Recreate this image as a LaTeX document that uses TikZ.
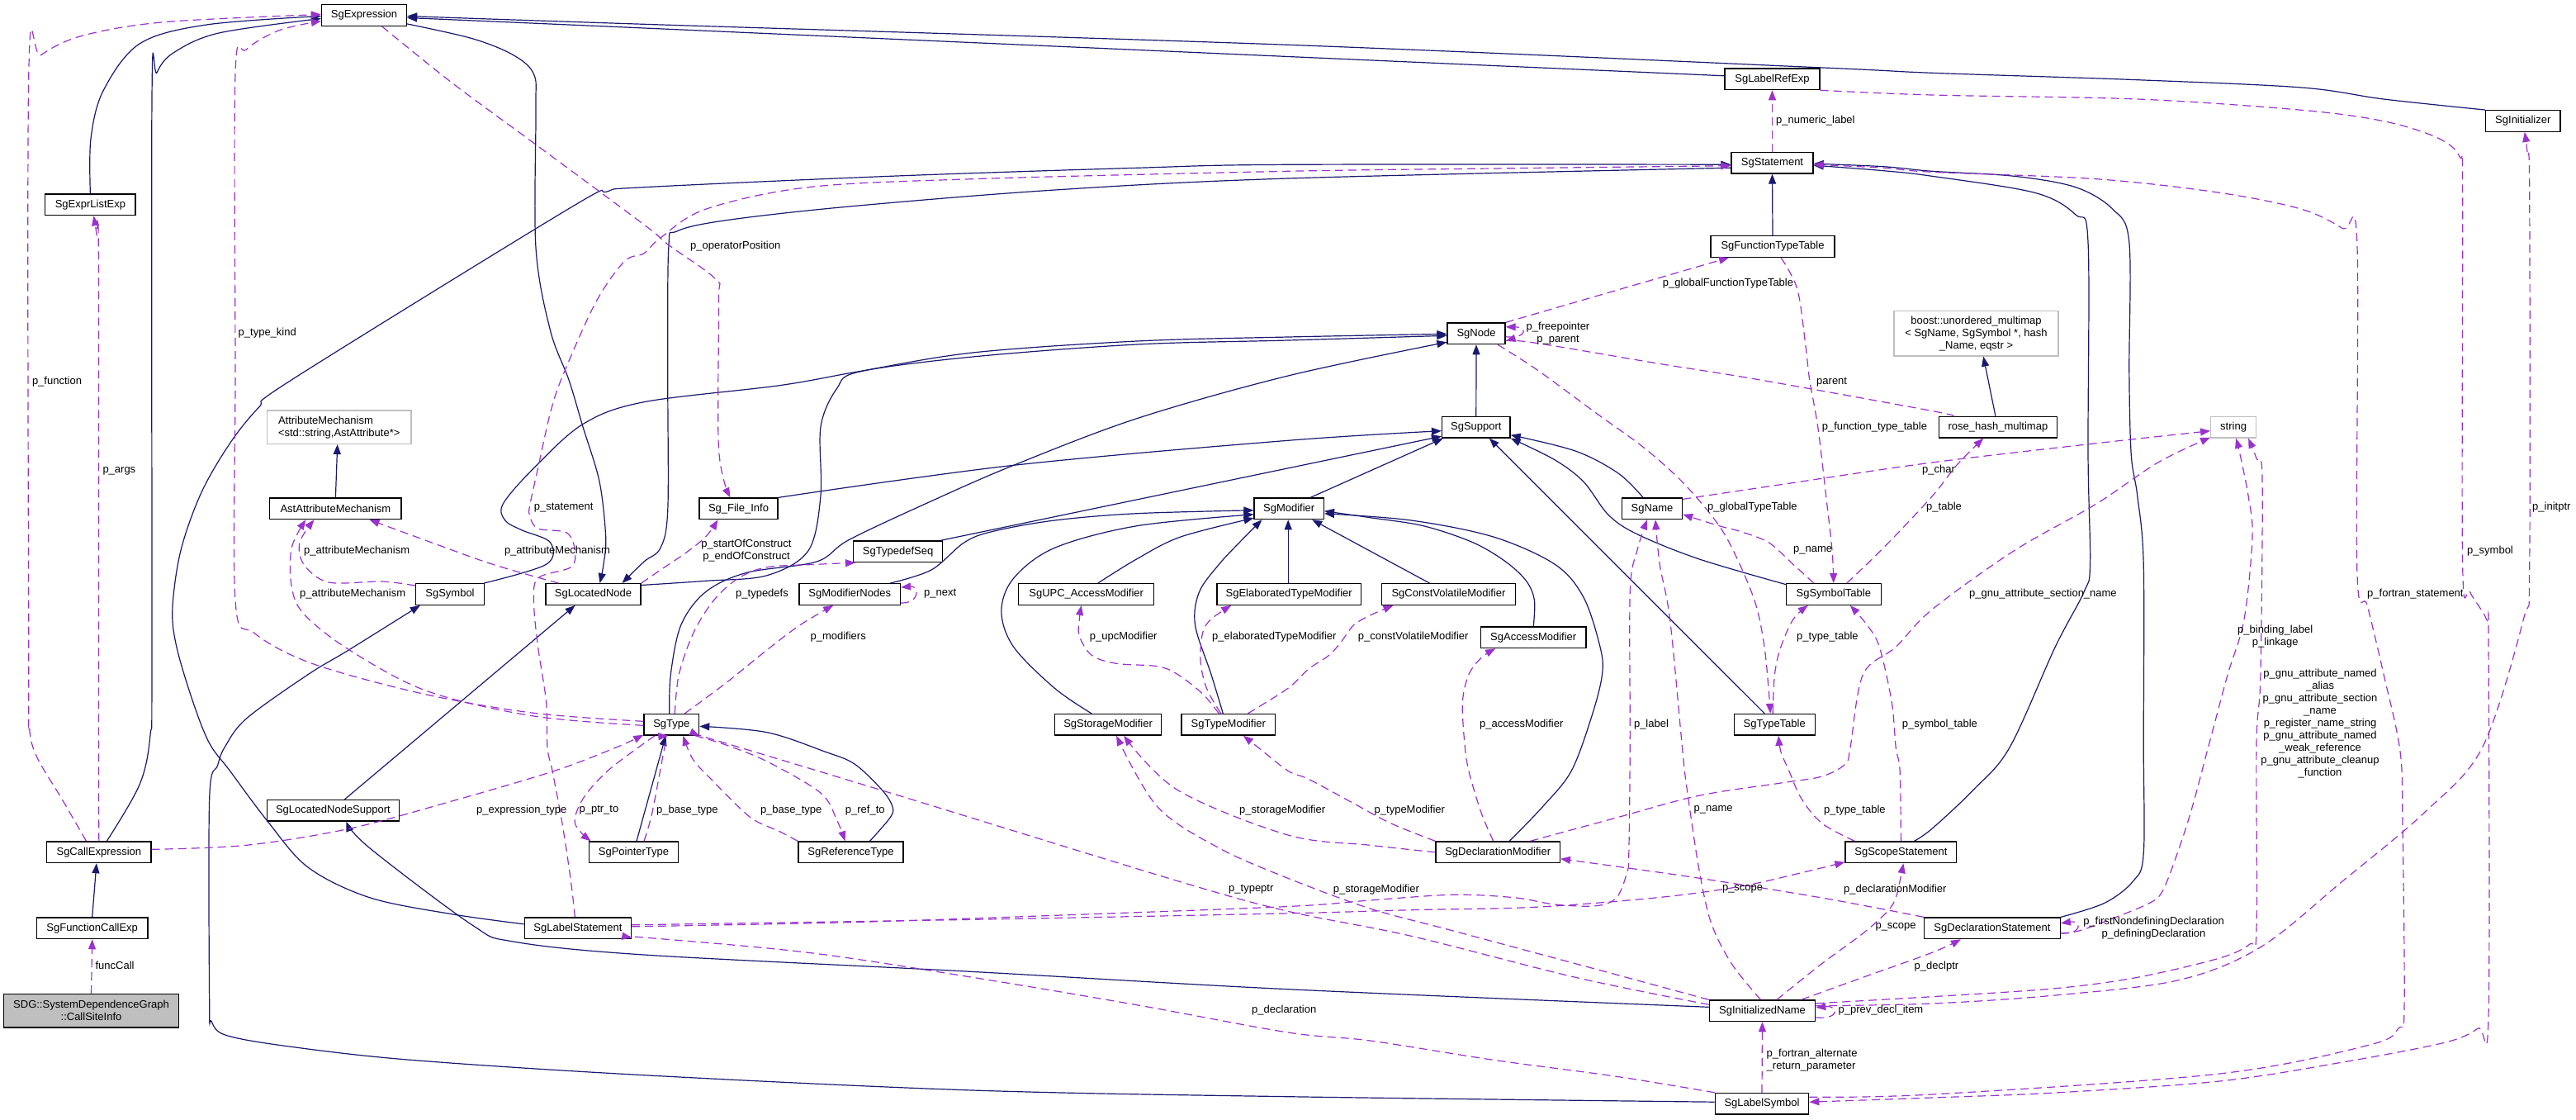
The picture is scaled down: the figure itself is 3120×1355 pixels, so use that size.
\documentclass[tikz,border=0pt]{standalone}
\usepackage{fontspec}
\setmainfont{Liberation Sans}
\usetikzlibrary{arrows.meta}
\definecolor{navy}{HTML}{191970}
\definecolor{orchid}{HTML}{9A32CD}
\definecolor{lgray}{HTML}{BFBFBF}
\newcommand{\dxf}{\fontsize{13}{15}\selectfont}
\begin{document}
\begin{tikzpicture}[x=1pt,y=-1pt,
  box/.style={draw=black,line width=1.3pt,fill=white,minimum height=25.6pt,inner sep=0pt,font=\dxf},
  gbox/.style={draw=lgray,line width=1.3pt,fill=white,inner sep=0pt,font=\dxf},
  inh/.style={draw=navy,line width=1.2pt,-{Triangle[length=12pt,width=9pt]}},
  use/.style={draw=orchid,line width=1.2pt,dash pattern=on 10pt off 6pt,-{Triangle[length=12pt,width=9pt]}},
  lab/.style={font=\dxf,inner sep=0pt,anchor=west},
  clab/.style={font=\dxf,inner sep=0pt,align=center}]
\fill[white] (0,0) rectangle (3120,1355);
\useasboundingbox (0,0) rectangle (3120,1355);
% ---------------- nodes
\node[box,minimum width=103pt] (Expr) at (441,18.5) {SgExpression};
\node[box,minimum width=109.4pt] (ExprList) at (109.4,247.8) {SgExprListExp};
\node[box,minimum width=115pt] (LabelRef) at (2146.5,95.8) {SgLabelRefExp};
\node[box,minimum width=99pt] (Stmt) at (2146.5,197.2) {SgStatement};
\node[box,minimum width=150pt] (FTT) at (2147,298.5) {SgFunctionTypeTable};
\node[box,minimum width=70pt] (Node) at (1788,403.8) {SgNode};
\node[gbox,minimum width=199pt,minimum height=54.3pt,align=center] (Boost) at (2393.5,403.8) {boost::unordered\_multimap\\< SgName, SgSymbol *, hash\\\_Name, eqstr >};
\node[box,minimum width=90.5pt] (Init) at (3055.8,146.5) {SgInitializer};
\node[gbox,minimum width=174.7pt,minimum height=40.3pt,align=left] (AM) at (410.7,517.2) {AttributeMechanism\\<std::string,AstAttribute*>};
\node[box,minimum width=159.2pt] (AAM) at (406.4,615.8) {AstAttributeMechanism};
\node[box,minimum width=83pt] (Sym) at (545,719.5) {SgSymbol};
\node[box,minimum width=115pt] (LocNode) at (718.5,719.5) {SgLocatedNode};
\node[box,minimum width=95pt] (FileInfo) at (894.5,615.8) {Sg\_File\_Info};
\node[box,minimum width=108pt] (TypedefSeq) at (1087.6,667.8) {SgTypedefSeq};
\node[box,minimum width=122.4pt] (ModNodes) at (1029.2,719.5) {SgModifierNodes};
\node[box,minimum width=164pt] (UPC) at (1315.7,719.5) {SgUPC\_AccessModifier};
\node[box,minimum width=174.6pt] (Elab) at (1561.2,719.5) {SgElaboratedTypeModifier};
\node[box,minimum width=84.3pt] (Mod) at (1561.2,615.8) {SgModifier};
\node[box,minimum width=66.7pt] (Type) at (813.3,877.3) {SgType};
\node[box,minimum width=129.4pt] (StorMod) at (1342.1,877.3) {SgStorageModifier};
\node[box,minimum width=113.5pt] (TypeMod) at (1487.8,877.3) {SgTypeModifier};
\node[box,minimum width=82.5pt] (Support) at (1787.8,517.2) {SgSupport};
\node[box,minimum width=73pt] (Name) at (2001,615.8) {SgName};
\node[box,minimum width=162pt] (CV) at (1754.5,719.5) {SgConstVolatileModifier};
\node[box,minimum width=127.8pt] (Access) at (1857.2,771.8) {SgAccessModifier};
\node[box,minimum width=114.8pt] (SymTab) at (2220.8,719.5) {SgSymbolTable};
\node[box,minimum width=98pt] (TypeTable) at (2149.2,877.3) {SgTypeTable};
\node[box,minimum width=142.7pt] (Rose) at (2419.9,517.2) {rose\_hash\_multimap};
\node[gbox,minimum width=54.8pt,minimum height=25.6pt] (Str) at (2705.1,517.2) {string};
\node[box,minimum width=160.2pt] (LNS) at (403.4,981.3) {SgLocatedNodeSupport};
\node[box,minimum width=126.3pt] (CallExpr) at (119.9,1031.8) {SgCallExpression};
\node[box,minimum width=134.7pt] (FuncCall) at (111.7,1123.8) {SgFunctionCallExp};
\node[box,fill=lgray,minimum width=212pt,minimum height=40.3pt,align=center] (SDG) at (110.5,1223.8) {SDG::SystemDependenceGraph\\::CallSiteInfo};
\node[box,minimum width=129.3pt] (LabelStmt) at (699.9,1123.8) {SgLabelStatement};
\node[box,minimum width=108.5pt] (PtrType) at (767.5,1031.8) {SgPointerType};
\node[box,minimum width=127pt] (RefType) at (1030.5,1031.8) {SgReferenceType};
\node[box,minimum width=150.3pt] (DeclMod) at (1814.2,1031.8) {SgDeclarationModifier};
\node[box,minimum width=134.8pt] (ScopeStmt) at (2302.4,1031.8) {SgScopeStatement};
\node[box,minimum width=128.3pt] (InitName) at (2134.5,1223.8) {SgInitializedName};
\node[box,minimum width=113.4pt] (LabelSym) at (2134,1336.2) {SgLabelSymbol};
\node[box,minimum width=164.7pt] (DeclStmt) at (2412.9,1123.8) {SgDeclarationStatement};
% ---------------- inheritance edges
\draw[inh] plot[smooth,tension=.55] coordinates {(ExprList.north) (110,168) (125,110) (169,53) (250,30) ([yshift=-1pt]Expr.west)};
\draw[inh] plot[smooth,tension=.55] coordinates {([xshift=9.4pt]CallExpr.north) (169,950) (182,890) (184,800) (184,120) (190,88) (210,64) (265,40) ([yshift=-4pt]Expr.west)};
\draw[inh] (FuncCall.north) -- ([xshift=-3pt]CallExpr.south);
\draw[inh] plot[smooth,tension=.55] coordinates {([yshift=4pt]LabelRef.west) (1560,68.5) (780,34) ([yshift=-3pt]Expr.east)};
\draw[inh] plot[smooth,tension=.55] coordinates {(Init.north west) (2887,120) (2787.7,106) (2588.7,96.7) (2340,88.3) (2201.6,81.7) (1560,54.3) (780,29.3) ([yshift=-1pt]Expr.east)};
\draw[inh] plot[smooth,tension=.55] coordinates {([yshift=3pt]Expr.south east) (572,46.7) (621.8,66.7) (646.6,90) (649,133) (649,300) (666.5,400) (689,460) (706,516.7) (726,583) (733.7,650) (731,683) ([xshift=8pt]LocNode.north)};
\draw[inh] plot[smooth,tension=.55] coordinates {([yshift=-6pt]Stmt.west) (1560,216) (1277.4,230) (1028.7,250) (879.5,266.7) (819.8,280) (809.8,300) (808.8,460) (808.8,616.7) (800,663.3) (780,680) ([xshift=35pt]LocNode.north)};
\draw[inh] plot[smooth,tension=.55] coordinates {([yshift=11pt]LocNode.east) (854.6,703.3) (929,696.7) (979,666.7) (994,600) (994,516.7) (1013.8,470) (1041,450) (1178,432) (1377,417) (1560,412) ([yshift=-2.5pt]Node.west)};
\draw[inh] plot[smooth,tension=.55] coordinates {([xshift=-1pt]Sym.north east) (661.6,683.3) (666.5,656.7) (631.7,641.7) (611.8,630) (609.3,610) (646.6,566.7) (706.3,513.3) (780,486.7) (944,466.7) (1038.7,450) (1178,427) (1377,413) (1560,408) ([yshift=-0.5pt]Node.west)};
\draw[inh] plot[smooth,tension=.55] coordinates {([xshift=-2.5pt]Type.north) (812.3,816.7) (824.8,756.7) (854.6,716.7) (904.4,693.3) (989,680) (1028.7,653.3) (1128,606.7) (1227.7,563.3) (1376.9,506.7) (1560,455) ([yshift=3pt]Node.south west)};
\draw[inh] (Support.north) -- (Node.south);
\draw[inh] plot[smooth,tension=.55] coordinates {(FileInfo.north east) (1227.7,563.3) (1560,533.3) ([yshift=-4.5pt]Support.west)};
\draw[inh] ([xshift=-3pt]TypedefSeq.north east) -- ([yshift=-11pt]Support.west);
\draw[inh] ([xshift=26pt]Mod.north) -- ([xshift=2pt]Support.south west);
\draw[inh] plot[smooth,tension=.55] coordinates {([xshift=-11pt]Name.north) (1960,573) (1908,546) ([yshift=-9.5pt]Support.east)};
\draw[inh] plot[smooth,tension=.55] coordinates {([yshift=-1.5pt]SymTab.north west) (2057.4,676.7) (1982.8,646.7) (1948,623.3) (1918,583.3) (1883,556.7) (Support.south east)};
\draw[inh] ([xshift=-12pt]TypeTable.north) -- ([xshift=16pt]Support.south);
\draw[inh] plot[smooth,tension=.55] coordinates {([xshift=49pt]ModNodes.north) (1128,690) (1168,656.7) (1202.8,643.3) (1277.4,630) (1377,621.7) ([yshift=-2pt]Mod.west)};
\draw[inh] plot[smooth,tension=.55] coordinates {([xshift=-20pt]StorMod.north) (1277.4,833.3) (1227.7,783.3) (1212.8,740) (1227.7,700) (1277.4,663.3) (1377,636.7) ([yshift=-7pt]Mod.west)};
\draw[inh] plot[smooth,tension=.55] coordinates {([xshift=14pt]UPC.north) (1377,676.7) (1430,650) ([yshift=2pt]Mod.south west)};
\draw[inh] plot[smooth,tension=.55] coordinates {([xshift=-6.5pt]TypeMod.north) (1467,816.7) (1447.5,756.7) (1452.5,716.7) (1476.4,683.3) (1501.2,656.7) ([xshift=10pt]Mod.south west)};
\draw[inh] ([xshift=-1pt]Elab.north) -- ([xshift=-1pt]Mod.south);
\draw[inh] ([xshift=-23pt]CV.north) -- ([xshift=28pt]Mod.south);
\draw[inh] plot[smooth,tension=.55] coordinates {(Access.north) (1858.4,726.7) (1848.5,703.3) (1823.6,680) (1783.8,656.7) (1724,636.7) (1659.5,626.7) ([yshift=-3pt]Mod.east)};
\draw[inh] plot[smooth,tension=.55] coordinates {([xshift=14pt]DeclMod.north) (1868.4,976.7) (1903.2,933.3) (1928,866.7) (1940.5,816.7) (1938,783.3) (1918,723.3) (1883.3,683.3) (1808.7,650) (1709.2,630) ([yshift=-6pt]Mod.east)};
\draw[inh] ([xshift=3.5pt]PtrType.north) -- ([xshift=-7pt]Type.south);
\draw[inh] plot[smooth,tension=.55] coordinates {([xshift=23pt]RefType.north) (1078,990) (1081,976.7) (1068.5,956.7) (1035,925) (999,910) (929,886.7) ([yshift=-2pt]Type.east)};
\draw[inh] ([xshift=14pt]LNS.north) -- ([xshift=-22pt]LocNode.south);
\draw[inh] plot[smooth,tension=.55] coordinates {([yshift=4.5pt]InitName.west) (1560,1197.7) (1170,1176) (780,1156) (621.8,1140) (572,1120) (447.7,1026.7) ([xshift=16pt]LNS.south)};
\draw[inh] plot[smooth,tension=.55] coordinates {([yshift=2pt]LabelSym.west) (1560,1327.7) (1177.9,1320) (780,1301.7) (497.4,1283.3) (348.2,1266.7) (273.6,1253.3) (256.2,1236.7) (253.7,1215) (253.7,966.7) (263.6,926.7) (272,905) (298.4,870) (373,816.7) (422.8,786.7) ([xshift=6pt]Sym.south west)};
\draw[inh] plot[smooth,tension=.55] coordinates {([yshift=5pt]LabelStmt.west) (547.1,1106.7) (447.7,1086.7) (373,1050) (323.3,993.3) (278.5,933.3) (253.7,900) (233.8,850) (213.9,783.3) (208.9,736.7) (218.9,666.7) (243.7,596.7) (278.5,536.7) (313.4,493.3) (353,460) (690,252) (735,232) (780,226.7) (1078.4,213.3) (1376.9,203.3) (1560,199.3) ([yshift=-2pt]Stmt.west)};
\draw[inh] plot[smooth,tension=.55] coordinates {([xshift=16pt]ScopeStmt.north) (2340,1003.3) (2389.7,956.7) (2434,905) (2489.2,783.3) (2524,716.7) (2531.5,683.3) (2529,550) (2529,293.3) (2514,260) (2464.4,233.3) (2340,213.3) (2281.2,206.7) ([yshift=-3pt]Stmt.east)};
\draw[inh] plot[smooth,tension=.55] coordinates {(DeclStmt.north east) (2549,1093.3) (2583.7,1066.7) (2596.2,1033.3) (2596.2,900) (2596.2,683.3) (2588.7,600) (2581.2,550) (2578.8,450) (2578.8,293.3) (2558.9,253.3) (2514,226.7) (2439.5,213.3) (2340,207.3) (2281.2,201.7) ([yshift=-1pt]Stmt.east)};
\draw[inh] (FTT.north) -- (Stmt.south);
\draw[inh] ([xshift=-3pt]Rose.north) -- ([xshift=8.7pt]Boost.south);
\draw[inh] (AAM.north) -- ([xshift=-2pt]AM.south);
% ---------------- usage edges
\draw[use] (SDG.north) -- (FuncCall.south);
\draw[use] plot[smooth,tension=.55] coordinates {(CallExpr.north) (119.4,900) (119.4,316.7) (116.9,283.3) ([xshift=4pt]ExprList.south)};
\draw[use] plot[smooth,tension=.55] coordinates {([xshift=-15.4pt]CallExpr.north) (74.6,966.7) (44.8,916.7) (35.5,880) (34.8,800) (34.8,90) (49.7,66.7) (99.5,43.3) (199,26.7) ([yshift=1pt]Expr.west)};
\draw[use] plot[smooth,tension=.55] coordinates {([yshift=3.5pt]CallExpr.east) (298.4,1023.3) (422.8,1003.3) (547.1,970) (671.5,933.3) (746,905) ([yshift=1pt]Type.south west)};
\draw[use] plot[smooth,tension=.55] coordinates {([yshift=4pt]Type.west) (646.6,863.3) (512.3,840) (378,803.3) (308.4,766.7) (285,726.7) (285,450) (285,90) (298.4,60) (338.2,36.7) ([yshift=-7pt]Expr.west)};
\draw[use] plot[smooth,tension=.55] coordinates {([xshift=4pt]Type.north) (822.3,816.7) (839.7,766.7) (864.6,726.7) (894.4,700) (929.2,686.7) (989,683.3) ([xshift=3pt]TypedefSeq.south west)};
\draw[use] plot[smooth,tension=.55] coordinates {([xshift=16pt]Type.north) (879.5,826.7) (929.2,786.7) (969,756.7) ([xshift=-20pt]ModNodes.south)};
\draw[use] ([yshift=3pt]ModNodes.south east) .. controls (1114,731) and (1114,709) .. ([yshift=-5pt]ModNodes.north east);
\draw[use] plot[smooth,tension=.55] coordinates {([yshift=-3pt]Sym.north west) (462.6,704) (398,705) (368,683.3) (363,656.7) ([xshift=-26pt]AAM.south)};
\draw[use] plot[smooth,tension=.55] coordinates {([yshift=-1pt]Type.west) (646.6,867) (517.3,836.7) (422.8,786.7) (368,743.3) (353.2,710) (353.2,663.3) ([xshift=-36pt]AAM.south)};
\draw[use] plot[smooth,tension=.55] coordinates {([xshift=-42pt]LocNode.north) (596.9,683.3) (522.3,656.7) ([xshift=41pt]AAM.south)};
\draw[use] plot[smooth,tension=.55] coordinates {(LocNode.north east) (804.9,686.7) (829.7,670) (854.6,650) ([xshift=-25pt]FileInfo.south)};
\draw[use] plot[smooth,tension=.55] coordinates {([xshift=21.6pt]Expr.south) (547.1,100) (646.6,173.3) (780,272) (810,296.7) (867,338.3) (870.5,365) (870.5,543.3) ([xshift=-10pt]FileInfo.north)};
\draw[use] plot[smooth,tension=.55] coordinates {([xshift=-3.5pt]LabelStmt.north) (691.4,1066.7) (681.5,1000) (669,933.3) (663,905) (661.6,850) (651.6,783.3) (646.6,730) (651.6,700) (691.4,686.7) (696.4,666.7) (686.4,645) (651.6,640) (641.7,625) (641.7,612) (651.6,566.7) (666.5,500) (681.5,455) (721.2,366.7) (756,316.7) (780,306.7) (800,288) (854.6,253.3) (979,226.7) (1177.9,216.7) (1560,207.3) (1808.7,204) ([yshift=-3.5pt]Stmt.west)};
\draw[use] (Stmt.north) -- (LabelRef.south);
\draw[use] plot[smooth,tension=.55] coordinates {(LabelRef.south east) (2340,115) (2588.7,120) (2787.7,133.3) (2887,146.7) (2951.8,166.7) (2979.2,190) (2982.6,233.3) (2982.6,683.3) (2991.6,716.7) (3011.5,750) (3014,783.3) (3014,1230) (3001.5,1245) (2961.8,1262) (2837.4,1286) (2688.2,1309) (2489.2,1323) (2340,1329) ([yshift=2pt]LabelSym.east)};
\draw[use] plot[smooth,tension=.55] coordinates {([yshift=8pt]LabelSym.east) (2340,1325) (2688.2,1300) (2870,1265) (2905,1245) (2912,1220) (2910,1000) (2907,910) (2887.1,816.7) (2867.3,733.3) (2854.8,690) (2854.8,293.3) (2837.4,276.7) (2787.7,253.3) (2688.2,233.3) (2539,216.7) (2340,208.3) (2281.2,203.3) ([yshift=-2pt]Stmt.east)};
\draw[use] plot[smooth,tension=.55] coordinates {([yshift=6pt]InitName.east) (2340,1215) (2489.2,1205) (2638.4,1186.7) (2737.9,1146.7) (2837.4,1066.7) (2936.9,983.3) (3006.5,905) (3056.3,750) (3063.7,683.3) (3063.7,233.3) (3061.2,186.7) ([xshift=2pt]Init.south)};
\draw[use] plot[smooth,tension=.55] coordinates {([yshift=9pt]InitName.east) (2340,1206.7) (2489.2,1196.7) (2588.7,1183.3) (2688.2,1160) (2725,1143) (2733,1125) (2733,900) (2737.9,816.7) (2740,580) (2733,555) ([xshift=18pt]Str.south)};
\draw[use] plot[smooth,tension=.55] coordinates {([yshift=-6pt]DeclStmt.east) (2519,1126.7) (2563.8,1110) (2603.6,1093.3) (2618.5,1080) (2633.5,1043.3) (2653.4,983.3) (2675.8,900) (2698.1,816.7) (2718,750) (2728,650) (2723,600) (2713,550) ([xshift=3pt]Str.south)};
\draw[use] plot[smooth,tension=.55] coordinates {([yshift=-2pt]Name.north east) (2156.9,586.7) (2340,560) (2539,536.7) ([yshift=-4.5pt]Str.west)};
\draw[use] plot[smooth,tension=.55] coordinates {([xshift=39pt]DeclMod.north) (1957.9,990) (2057.4,963.3) (2156.9,948) (2206.6,940) (2235,925) (2241,905) (2256.4,816.7) (2296.2,783.3) (2340,738) (2439.5,666.7) (2539,610) (2613.6,560) ([yshift=1pt]Str.south west)};
\draw[use] plot[smooth,tension=.55] coordinates {([xshift=16pt]SymTab.north) (2281.2,663.3) (2340,601) (2369.8,563.3) ([xshift=-17.7pt]Rose.south)};
\draw[use] plot[smooth,tension=.55] coordinates {([xshift=-55pt]Rose.north) (2340,497.5) (2132,460) (2007.7,440) (1858.4,415) ([yshift=-9pt]Node.east)};
\draw[use] ([yshift=-4pt]Node.east) .. controls (1850,410) and (1850,396) .. ([yshift=8pt]Node.east);
\draw[use] (Node.north east) -- ([xshift=-53pt]FTT.south);
\draw[use] plot[smooth,tension=.55] coordinates {([xshift=10pt]FTT.south) (2176.8,350) (2186.7,416.7) (2191.7,460) (2201.7,516.7) (2211.6,600) (2219,666.7) (SymTab.north)};
\draw[use] plot[smooth,tension=.55] coordinates {([xshift=26pt]Node.south) (1862,448) (1933,500) (1992.7,543.3) (2040,586) (2082.3,636.7) (2107.2,683.3) (2127,733.3) (2137,783.3) (2142,833.3) ([xshift=-5pt]TypeTable.north)};
\draw[use] plot[smooth,tension=.55] coordinates {([xshift=-24pt]SymTab.north) (2171.8,683.3) (2142,656.7) (2107.2,643.3) (2082.3,636.7) ([yshift=-7pt]Name.east)};
\draw[use] plot[smooth,tension=.55] coordinates {([xshift=-2pt]TypeTable.north) (2149.4,816.7) (2156.9,783.3) (2171.8,750) ([xshift=-31pt]SymTab.south)};
\draw[use] plot[smooth,tension=.55] coordinates {(ScopeStmt.north) (2301.1,933.3) (2296.2,905) (2291.2,850) (2276.3,783.3) (2261.3,756.7) ([xshift=20pt]SymTab.south)};
\draw[use] plot[smooth,tension=.55] coordinates {([xshift=-56pt]ScopeStmt.north) (2206.6,996.7) (2181.7,966.7) (2166.8,933.3) (2156.9,910) ([xshift=5pt]TypeTable.south)};
\draw[use] plot[smooth,tension=.55] coordinates {(DeclMod.west) (1659.5,1023.3) (1560,1011) (1426.6,956.7) ([xshift=19pt]StorMod.south)};
\draw[use] plot[smooth,tension=.55] coordinates {(InitName.north west) (1908.2,1166.7) (1759,1126.7) (1659.5,1100) (1560,1063.3) (1476.4,1026.7) (1401.8,976.7) ([xshift=10pt]StorMod.south)};
\draw[use] plot[smooth,tension=.55] coordinates {(DeclMod.north west) (1684.4,996.7) (1634.6,970) (1584.9,943.3) (1560,933.3) (1526.1,906.7) ([xshift=18pt]TypeMod.south)};
\draw[use] plot[smooth,tension=.55] coordinates {([xshift=-5.5pt]DeclMod.north) (1793.8,983.3) (1778.9,933.3) (1773.9,900) (1771.4,850) (1778.9,816.7) (1793.8,796.7) ([xshift=-46pt]Access.south)};
\draw[use] plot[smooth,tension=.55] coordinates {([xshift=-11.4pt]TypeMod.north) (1456.5,840) (1426.6,816.7) (1401.8,806.7) (1352,803.3) (1322.2,793.3) (1307.3,770) (1307.3,750) ([xshift=-6pt]UPC.south)};
\draw[use] plot[smooth,tension=.55] coordinates {([xshift=-9pt]TypeMod.north) (1461.4,833.3) (1454,800) (1456.5,766.7) (1466.4,750) ([xshift=-70pt]Elab.south)};
\draw[use] plot[smooth,tension=.55] coordinates {([xshift=23.5pt]TypeMod.north) (1560,833.3) (1584.9,810) (1609.7,793.3) (1624.7,776.7) (1639.6,756.7) (1659.5,745) ([xshift=-67pt]CV.south)};
\draw[use] plot[smooth,tension=.55] coordinates {([yshift=7.5pt]InitName.west) (1908.2,1183.3) (1709.2,1133.3) (1560,1103.3) (1426.6,1066.7) (1078.4,960) (879.5,900) (Type.south east)};
\draw[use] plot[smooth,tension=.55] coordinates {([xshift=-20pt]Type.south) (780,900) (736,933.3) (706.3,966.7) (696.4,996.7) ([xshift=3pt]PtrType.north west)};
\draw[use] plot[smooth,tension=.55] coordinates {([xshift=12.5pt]PtrType.north) (790,983.3) (804.9,905) ([xshift=-4pt]Type.south)};
\draw[use] plot[smooth,tension=.55] coordinates {([xshift=-5pt]Type.south east) (879.5,902) (929.2,922) (993.9,960) (1013.8,993.3) ([xshift=-7pt]RefType.north)};
\draw[use] plot[smooth,tension=.55] coordinates {(RefType.north west) (944.1,1006.7) (914.3,993.3) (894.4,976.7) (864.6,946.7) (839.7,920) ([xshift=14pt]Type.south)};
\draw[use] plot[smooth,tension=.55] coordinates {([yshift=2pt]LabelStmt.east) (1028.7,1116.7) (1277.4,1108.3) (1560,1097.5) (1659.5,1090) (1759,1083.3) (1833.6,1086.7) (1883.3,1095) (1933,1096.7) (1957.9,1086.7) (1970.4,1056.7) (1972.8,1033.3) (1974.3,900) (1974.3,716.7) (1982.8,666.7) ([xshift=-6pt]Name.south)};
\draw[use] plot[smooth,tension=.55] coordinates {([yshift=4pt]LabelStmt.east) (1177.9,1113.3) (1560,1105.8) (1709.2,1101.7) (1858.4,1098.3) (2007.7,1086.7) (2107.2,1073.3) (2181.7,1056.7) ([yshift=1.5pt]ScopeStmt.south west)};
\draw[use] plot[smooth,tension=.55] coordinates {([xshift=-2pt]InitName.north) (2097.2,1166.7) (2072.3,1116.7) (2057.4,1050) (2042.5,950) (2037.5,905) (2022.6,750) (2010.2,683.3) ([xshift=4pt]Name.south)};
\draw[use] plot[smooth,tension=.55] coordinates {([xshift=17.5pt]InitName.north) (2206.6,1166.7) (2256.4,1130) (2286.2,1103.3) (2296.2,1086.7) (2301.1,1066.7) ([xshift=3pt]ScopeStmt.south)};
\draw[use] plot[smooth,tension=.55] coordinates {([xshift=47pt]InitName.north) (2256.4,1183.3) (2340,1153.3) ([xshift=-38pt]DeclStmt.south)};
\draw[use] plot[smooth,tension=.55] coordinates {(DeclStmt.north west) (2206.6,1087) (2050,1062) ([yshift=-8pt]DeclMod.east)};
\draw[use] ([yshift=-6pt]DeclStmt.east) .. controls (2522,1132) and (2522,1114) .. ([yshift=6pt]DeclStmt.east);
\draw[use] ([yshift=-8pt]InitName.east) .. controls (2228,1235) and (2228,1217) .. ([yshift=4pt]InitName.east);
\draw[use] (LabelSym.north) -- (InitName.south);
\draw[use] plot[smooth,tension=.55] coordinates {(LabelSym.north west) (1957.9,1303.3) (1808.7,1283.3) (1659.5,1260) (1560,1250) (1376.9,1216.7) (1177.9,1183.3) (979,1153.3) (780,1135) ([yshift=2pt]LabelStmt.south east)};
% ---------------- labels
\node[lab] (l1) at (115.4,1169) {funcCall};
\node[lab] (l2) at (124.3,570) {p\_args};
\node[lab] (l3) at (38.8,462.3) {p\_function};
\node[lab] (l4) at (577,980.7) {p\_expression\_type};
\node[lab] (l5) at (288.5,402.7) {p\_type\_kind};
\node[lab] (l6) at (891,718.7) {p\_typedefs};
\node[lab] (l7) at (981.4,770.7) {p\_modifiers};
\node[lab] (l8) at (1119,718.7) {p\_next};
\node[lab] (l9) at (368,666.7) {p\_attributeMechanism};
\node[lab] (l10) at (363,718.7) {p\_attributeMechanism};
\node[lab] (l11) at (610.8,666.7) {p\_attributeMechanism};
\node[clab] (l12) at (904,667) {p\_startOfConstruct\\p\_endOfConstruct};
\node[lab] (l13) at (836,297.7) {p\_operatorPosition};
\node[lab] (l14) at (646.7,615) {p\_statement};
\node[lab] (l15) at (2151,145.7) {p\_numeric\_label};
\node[lab] (l16) at (2988,666.7) {p\_symbol};
\node[lab] (l17) at (2867,718.7) {p\_fortran\_statement};
\node[lab] (l18) at (3067,614.3) {p\_initptr};
\node[clab] (l19) at (2810,876) {p\_gnu\_attribute\_named\\\_alias\\p\_gnu\_attribute\_section\\\_name\\p\_register\_name\_string\\p\_gnu\_attribute\_named\\\_weak\_reference\\p\_gnu\_attribute\_cleanup\\\_function};
\node[clab] (l20) at (2755.7,771) {p\_binding\_label\\p\_linkage};
\node[lab] (l21) at (2328,569.3) {p\_char};
\node[lab] (l22) at (2385,718.7) {p\_gnu\_attribute\_section\_name};
\node[lab] (l23) at (2333,614.3) {p\_table};
\node[lab] (l24) at (2200,462.7) {parent};
\node[clab] (l25) at (1887,403.3) {p\_freepointer\\p\_parent};
\node[lab] (l26) at (2013.6,342.7) {p\_globalFunctionTypeTable};
\node[lab] (l27) at (2206.6,516.7) {p\_function\_type\_table};
\node[lab] (l28) at (2068,614.3) {p\_globalTypeTable};
\node[lab] (l29) at (2172,666.7) {p\_name};
\node[lab] (l30) at (2176,770.7) {p\_type\_table};
\node[lab] (l31) at (2303.6,876.7) {p\_symbol\_table};
\node[lab] (l32) at (2209,980.7) {p\_type\_table};
\node[lab] (l33) at (1501,980.7) {p\_storageModifier};
\node[lab] (l34) at (1614.7,1076.7) {p\_storageModifier};
\node[lab] (l35) at (1664.5,980.7) {p\_typeModifier};
\node[lab] (l36) at (1792,876.7) {p\_accessModifier};
\node[lab] (l37) at (1319.7,770.7) {p\_upcModifier};
\node[lab] (l38) at (1468,770.7) {p\_elaboratedTypeModifier};
\node[lab] (l39) at (1644.6,770.7) {p\_constVolatileModifier};
\node[lab] (l40) at (1488,1076.7) {p\_typeptr};
\node[lab] (l41) at (701.4,980.7) {p\_ptr\_to};
\node[lab] (l42) at (795,980.7) {p\_base\_type};
\node[lab] (l43) at (1023.7,980.7) {p\_ref\_to};
\node[lab] (l44) at (920.8,980.7) {p\_base\_type};
\node[lab] (l45) at (1978.8,876.7) {p\_label};
\node[lab] (l46) at (2085.8,1076.7) {p\_scope};
\node[lab] (l47) at (2051.4,980.7) {p\_name};
\node[lab] (l48) at (2271.3,1122.7) {p\_scope};
\node[lab] (l49) at (2318.5,1170) {p\_declptr};
\node[lab] (l50) at (2233,1076.7) {p\_declarationModifier};
\node[clab] (l51) at (2608.5,1123.2) {p\_firstNondefiningDeclaration\\p\_definingDeclaration};
\node[lab] (l52) at (2226.5,1222.7) {p\_prev\_decl\_item};
\node[lab,align=left] (l53) at (2139.5,1283.2) {p\_fortran\_alternate\\\_return\_parameter};
\node[lab] (l54) at (1516,1222.7) {p\_declaration};
\end{tikzpicture}
\end{document}
